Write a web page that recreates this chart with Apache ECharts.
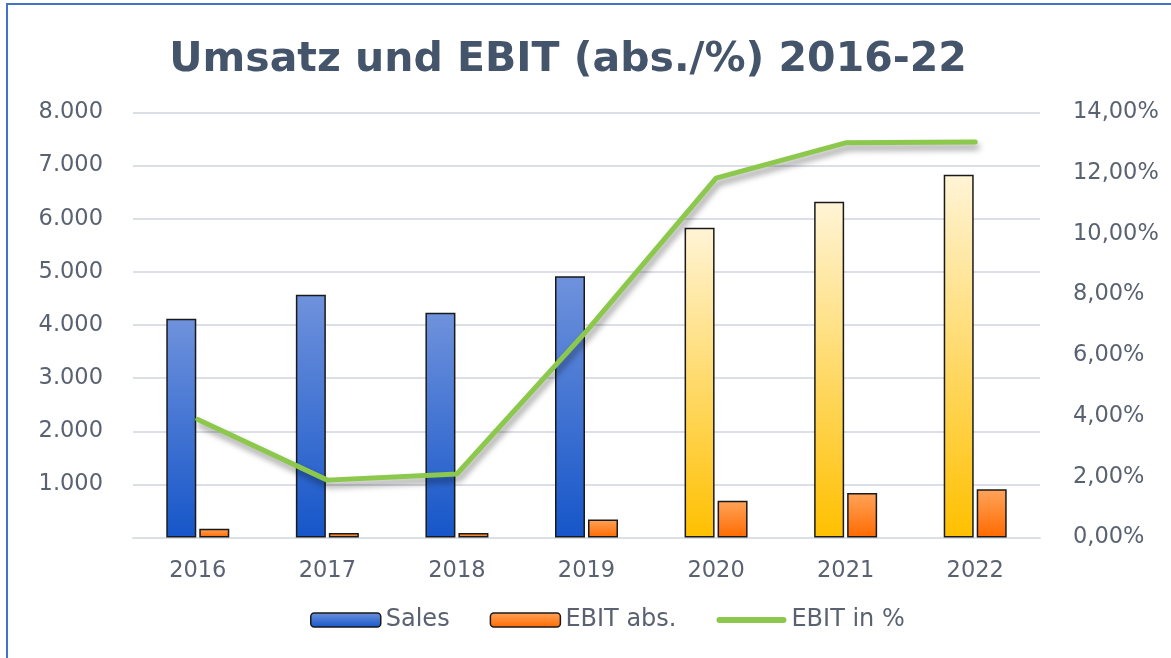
<!DOCTYPE html>
<html>
<head>
<meta charset="utf-8">
<script src="https://cdn.jsdelivr.net/npm/echarts@6/dist/echarts.min.js"></script>
<style>
html,body{margin:0;padding:0;background:#fff;}
#chart{width:1171px;height:658px;}
</style>
</head>
<body>
<div id="chart"></div>
<script>
// Daten
var years = ['2016','2017','2018','2019','2020','2021','2022'];
var sales = [4120, 4570, 4230, 4920, 5830, 6320, 6830];
var ebitAbs = [165, 85, 85, 340, 690, 840, 910];
var ebitPct = [3.89, 1.89, 2.09, 6.8, 11.84, 13.0, 13.03];
var planYears = ['2020','2021','2022'];   // gelb dargestellt

function grad(top, bottom){
	return new echarts.graphic.LinearGradient(0,0,0,1,[{offset:0,color:top},{offset:1,color:bottom}]);
}
var blue = grad('#6f92dc','#1656c9');
var yellow = grad('#fff4d6','#ffc000');
var orange = grad('#ffa45a','#ff6a00');

var salesData = [];
for(var i=0;i<sales.length;i++){
	salesData.push({
		value: sales[i],
		itemStyle: {color: planYears.indexOf(years[i])>=0 ? yellow : blue}
	});
}

var labelFont = {color:'#5a6272', fontSize:22.5, fontFamily:'DejaVu Sans'};

var myChart = echarts.init(document.getElementById('chart'));
var option = {
	animation: false,
	backgroundColor: '#fff',
	title: {
		text: 'Umsatz und EBIT (abs./%) 2016-22',
		left: 563,
		textAlign: 'center',
		top: 35,
		textStyle: {fontFamily:'DejaVu Sans', fontWeight:'bold', fontSize:41, color:'#44546a'}
	},
	graphic: [{
		type: 'rect',
		shape: {x:7, y:4, width:1200, height:700},
		style: {fill:'none', stroke:'#4472c4', lineWidth:2},
		silent: true
	}],
	legend: {
		bottom: 21,
		left: 305,
		itemWidth: 70,
		itemHeight: 14,
		itemGap: 40,
		textStyle: {color:'#5a6272', fontSize:24, fontFamily:'DejaVu Sans'},
		data: [
			{name:'Sales', itemStyle:{color:grad('#6f92dc','#1656c9'), borderColor:'#1a1a1a', borderWidth:1.5}},
			{name:'EBIT abs.', itemStyle:{color:orange, borderColor:'#1a1a1a', borderWidth:1.5}},
			{name:'EBIT in %', icon:'path://M3,0 L67,0 A3,3 0 0 1 67,6 L3,6 A3,3 0 0 1 3,0 Z',
				itemStyle:{color:'#8cc84b', borderWidth:0}}
		]
	},
	grid: {left:133, right:131, top:112.5, bottom:120.5},
	xAxis: {
		type: 'category',
		data: years,
		axisLine: {show:true, lineStyle:{color:'#dcdfe6', width:2}},
		axisTick: {show:false},
		axisLabel: Object.assign({margin:22}, labelFont)
	},
	yAxis: [{
		type: 'value',
		min: 0, max: 8000, interval: 1000,
		axisLine: {show:false},
		axisTick: {show:false},
		splitLine: {lineStyle:{color:'#dcdfe6', width:2}},
		axisLabel: Object.assign({margin:30, formatter:function(v){
			if(v==0)return '';
			return String(v).replace(/\B(?=(\d{3})+(?!\d))/g,'.');
		}}, labelFont)
	},{
		type: 'value',
		min: 0, max: 14, interval: 2,
		axisLine: {show:false},
		axisTick: {show:false},
		splitLine: {show:false},
		axisLabel: Object.assign({margin:33, formatter:function(v){
			return v.toFixed(2).replace('.',',')+'%';
		}}, labelFont)
	}],
	series: [{
		name: 'Sales',
		type: 'bar',
		barWidth: 30,
		barGap: '10%',
		itemStyle: {color: blue, borderColor:'#1a1a1a', borderWidth:1.5},
		data: salesData
	},{
		name: 'EBIT abs.',
		type: 'bar',
		barWidth: 30,
		itemStyle: {color: orange, borderColor:'#1a1a1a', borderWidth:1.5},
		data: ebitAbs
	},{
		name: 'EBIT in %',
		type: 'line',
		yAxisIndex: 1,
		symbol: 'none',
		itemStyle: {color:'#8cc84b'},
		lineStyle: {color:'#8cc84b', width:5, cap:'round', shadowColor:'rgba(0,0,0,0.4)', shadowBlur:6, shadowOffsetY:5, shadowOffsetX:2},
		data: ebitPct,
		z: 5
	}]
};
myChart.setOption(option);
</script>
</body>
</html>
